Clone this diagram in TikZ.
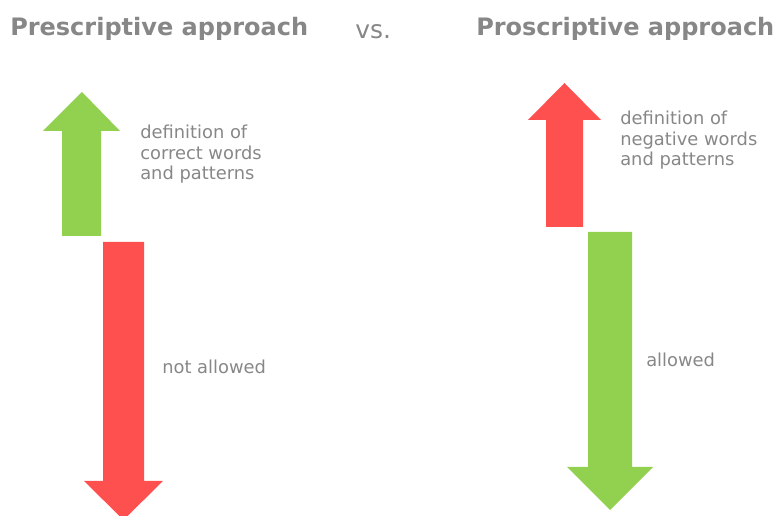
\documentclass[tikz,border=0pt]{standalone}
\usepackage{fontspec}
\setmainfont{DejaVu Sans}
\usepackage{tikz}
\definecolor{okgreen}{HTML}{92D050}
\definecolor{nogored}{HTML}{FF5050}
\definecolor{txtgray}{HTML}{878787}

\begin{document}
\begin{tikzpicture}[x=0.75pt, y=-0.75pt,
	title/.style={anchor=base west, inner sep=0pt, text=txtgray, font=\bfseries\fontsize{18}{21}\selectfont},
	note/.style={anchor=base west, inner sep=0pt, text=txtgray, align=left, font=\fontsize{13.4}{15.6}\selectfont}]
	\useasboundingbox (0,0) rectangle (776,516);

	\node[title] (pre) at (10,36) {Prescriptive approach};
	\node[anchor=base west, inner sep=0pt, text=txtgray, font=\fontsize{18.7}{22}\selectfont] (vs) at (355,39) {vs.};
	\node[title] (pro) at (476,36) {Proscriptive approach};

	% left side: correct words up, the rest down
	\fill[okgreen] (62,236) -- (62,131) -- (43,131) -- (82,92) -- (120,131) -- (101,131) -- (101,236) -- cycle;
	\fill[nogored] (103,242) -- (103,481) -- (84,481) -- (123.5,520) -- (163,481) -- (144,481) -- (144,242) -- cycle;
	\node[note] (defok) at (140,180) {definition of\\correct words\\and patterns};
	\node[note] (notok) at (162,374) {not allowed};

	% right side: negative words up, the rest down
	\fill[nogored] (546,227) -- (546,120) -- (528,120) -- (564.5,83) -- (601,120) -- (583,120) -- (583,227) -- cycle;
	\fill[okgreen] (588,232) -- (588,467) -- (567,467) -- (610,510) -- (653,467) -- (632,467) -- (632,232) -- cycle;
	\node[note] (defneg) at (620,166) {definition of\\negative words\\and patterns};
	\node[note] (isok) at (646,367) {allowed};
\end{tikzpicture}
\end{document}
